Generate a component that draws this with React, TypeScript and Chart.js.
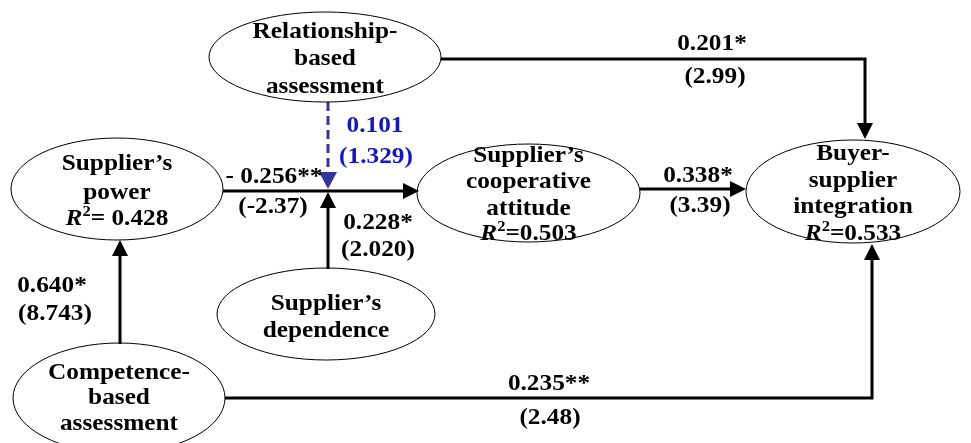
import React, { useEffect, useRef } from "react";
import { Chart, registerables } from "chart.js";

Chart.register(...registerables);

const W = 971;
const H = 443;

// ---------- DATA ----------
const constructLines: string[][] = [
  ["Relationship-", "based", "assessment"],
  ["Supplier’s", "power"],
  ["Supplier’s", "cooperative", "attitude"],
  ["Buyer-", "supplier", "integration"],
  ["Supplier’s", "dependence"],
  ["Competence-", "based", "assessment"],
];
const rSquared: (number | null)[] = [null, 0.428, 0.503, 0.533, null, null];
const pathCoefficients = ["0.201*", "- 0.256**", "0.228*", "0.101", "0.338*", "0.640*", "0.235**"];
const tStatistics = ["(2.99)", "(-2.37)", "(2.020)", "(1.329)", "(3.39)", "(8.743)", "(2.48)"];

// ---------- LAYOUT (positions in scale units) ----------
const nodeX = [325, 117, 528.5, 853, 326, 119];
const nodeY = [57, 189, 193, 191.5, 314, 398];
const nodeRx = [116, 106, 111.5, 107, 109, 106];
const nodeRy = [45, 51, 49, 51.5, 46, 55];
const nodeBaselines: number[][] = [
  [38, 65, 93],
  [170, 199, 225],
  [162, 188, 215, 240],
  [160, 187, 213, 240],
  [310, 337],
  [379, 404, 430],
];
const r2Gap = ["", " ", "", "", "", ""];

const edgePaths: number[][][] = [
  [[441, 59], [865, 59], [865, 139]],
  [[223, 191], [419, 191]],
  [[328, 269], [328, 192]],
  [[328, 102], [328, 189]],
  [[640, 189], [746, 189]],
  [[120, 344], [120, 240]],
  [[225, 398], [872, 398], [872, 244]],
];
const edgeDashed = [false, false, false, true, false, false, false];
const edgeColor = ["#000", "#000", "#000", "#34349a", "#000", "#000", "#000"];
const labelColor = ["#000", "#000", "#000", "#1414c8", "#000", "#000", "#000"];
const coefPos = [[712, 50], [274, 183], [378, 229], [375, 132], [698, 182], [52, 292], [549, 390]];
const tPos = [[715, 83], [273, 213], [378, 256], [376, 163], [700, 212], [55, 320], [550, 424]];

const FONT_FAMILY = '"Liberation Serif", "Times New Roman", serif';
const FONT = `bold 23px ${FONT_FAMILY}`;
const STRETCH = 1.1;

function stretchedText(ctx: CanvasRenderingContext2D, text: string, x: number, y: number) {
  ctx.save();
  ctx.translate(x, y);
  ctx.scale(STRETCH, 1);
  ctx.fillText(text, 0, 0);
  ctx.restore();
}

const diagramPlugin = {
  id: "pathDiagram",
  afterDraw(chart: any) {
    const ctx: CanvasRenderingContext2D = chart.ctx;
    const xs = chart.scales.x;
    const ys = chart.scales.y;
    const px = (v: number) => xs.getPixelForValue(v);
    const py = (v: number) => ys.getPixelForValue(v);
    const sx = (d: number) => Math.abs(xs.getPixelForValue(d) - xs.getPixelForValue(0));
    const sy = (d: number) => Math.abs(ys.getPixelForValue(d) - ys.getPixelForValue(0));

    ctx.save();
    ctx.fillStyle = "#fff";
    ctx.fillRect(0, 0, chart.width, chart.height);

    // edges
    edgePaths.forEach((path, i) => {
      const pts = path.map(([x, y]) => [px(x), py(y)]);
      const n = pts.length;
      const [x1, y1] = pts[n - 2];
      const [x2, y2] = pts[n - 1];
      const len = Math.hypot(x2 - x1, y2 - y1);
      const ux = (x2 - x1) / len;
      const uy = (y2 - y1) / len;
      const headLen = edgeDashed[i] ? 17 : 16;
      const headHalf = edgeDashed[i] ? 9 : 8;
      ctx.strokeStyle = edgeColor[i];
      ctx.fillStyle = edgeColor[i];
      ctx.lineWidth = 3;
      ctx.lineJoin = "miter";
      ctx.lineCap = "butt";
      ctx.setLineDash(edgeDashed[i] ? [9, 5] : []);
      ctx.beginPath();
      ctx.moveTo(pts[0][0], pts[0][1]);
      for (let k = 1; k < n - 1; k++) ctx.lineTo(pts[k][0], pts[k][1]);
      ctx.lineTo(x2 - ux * (headLen - 2), y2 - uy * (headLen - 2));
      ctx.stroke();
      ctx.setLineDash([]);
      ctx.beginPath();
      ctx.moveTo(x2, y2);
      ctx.lineTo(x2 - ux * headLen - uy * headHalf, y2 - uy * headLen + ux * headHalf);
      ctx.lineTo(x2 - ux * headLen + uy * headHalf, y2 - uy * headLen - ux * headHalf);
      ctx.closePath();
      ctx.fill();
    });

    // ellipses
    ctx.strokeStyle = "#000";
    ctx.lineWidth = 1;
    nodeX.forEach((cx, i) => {
      ctx.beginPath();
      ctx.ellipse(px(cx), py(nodeY[i]), sx(nodeRx[i]), sy(nodeRy[i]), 0, 0, Math.PI * 2);
      ctx.stroke();
    });

    // node text
    ctx.textBaseline = "alphabetic";
    ctx.fillStyle = "#000";
    constructLines.forEach((lines, i) => {
      const cx = px(nodeX[i]);
      ctx.font = FONT;
      ctx.textAlign = "center";
      lines.forEach((ln, k) => {
        stretchedText(ctx, ln, cx, py(nodeBaselines[i][k]));
      });
      const r2 = rSquared[i];
      if (r2 !== null) {
        const by = py(nodeBaselines[i][lines.length]);
        const rFont = `italic bold 23px ${FONT_FAMILY}`;
        const supFont = `bold 15px ${FONT_FAMILY}`;
        const rest = "=" + r2Gap[i] + r2.toFixed(3);
        ctx.textAlign = "left";
        ctx.font = rFont;
        const wR = ctx.measureText("R").width * STRETCH;
        ctx.font = supFont;
        const w2 = ctx.measureText("2").width * STRETCH;
        ctx.font = FONT;
        const wRest = ctx.measureText(rest).width * STRETCH;
        let x = cx - (wR + w2 + wRest) / 2;
        ctx.font = rFont;
        stretchedText(ctx, "R", x, by);
        x += wR;
        ctx.font = supFont;
        stretchedText(ctx, "2", x, by - 9);
        x += w2;
        ctx.font = FONT;
        stretchedText(ctx, rest, x, by);
      }
    });

    // edge labels
    ctx.font = FONT;
    ctx.textAlign = "center";
    pathCoefficients.forEach((c, i) => {
      ctx.fillStyle = labelColor[i];
      stretchedText(ctx, c, px(coefPos[i][0]), py(coefPos[i][1]));
      stretchedText(ctx, tStatistics[i], px(tPos[i][0]), py(tPos[i][1]));
    });
    ctx.restore();
  },
};

export default function App() {
  const ref = useRef<HTMLCanvasElement | null>(null);
  useEffect(() => {
    if (!ref.current) return;
    const chart = new Chart(ref.current, {
      type: "scatter",
      data: {
        datasets: [
          {
            data: nodeX.map((x, i) => ({ x, y: nodeY[i] })),
            pointRadius: 0,
            showLine: false,
          },
        ],
      },
      options: {
        responsive: false,
        animation: false,
        events: [],
        layout: { padding: 0 },
        scales: {
          x: { type: "linear", min: 0, max: W, display: false },
          y: { type: "linear", min: 0, max: H, reverse: true, display: false },
        },
        plugins: { legend: { display: false }, tooltip: { enabled: false } },
      },
      plugins: [diagramPlugin],
    } as any);
    return () => chart.destroy();
  }, []);
  return (
    <div style={{ position: "absolute", left: 0, top: 0, width: W, height: H, background: "#fff" }}>
      <canvas ref={ref} width={W} height={H} style={{ display: "block" }} />
    </div>
  );
}
